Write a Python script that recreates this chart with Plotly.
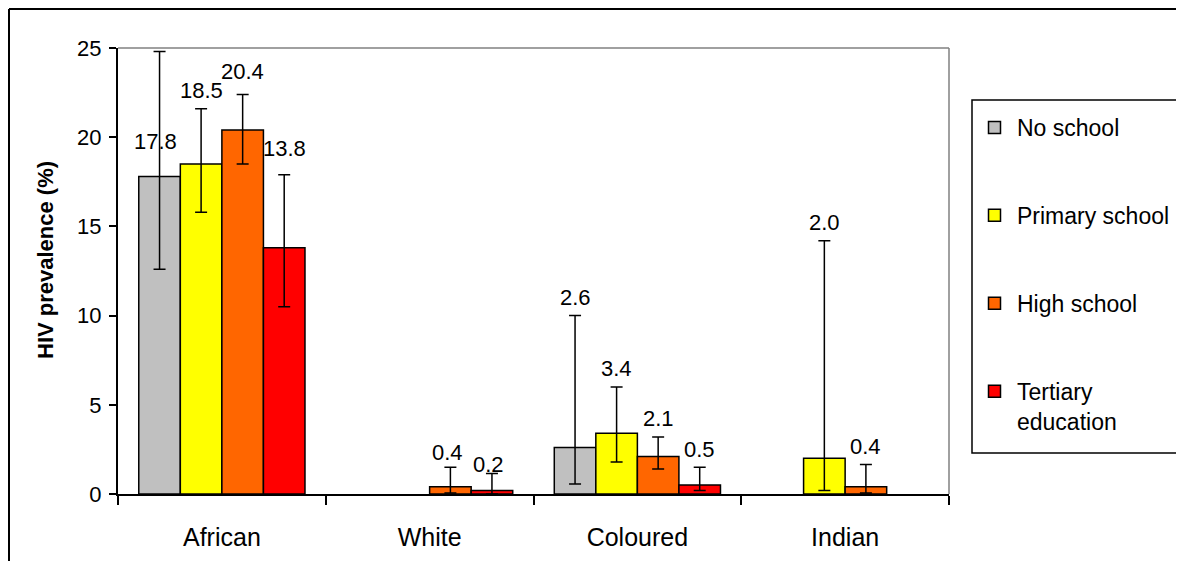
import plotly.graph_objects as go

categories = ["African", "White", "Coloured", "Indian"]
series_names = ["No school", "Primary school", "High school", "Tertiary<br>education"]
series_colors = ["#C0C0C0", "#FFFF00", "#FF6600", "#FF0000"]

no_school = [17.8, None, 2.6, None]
no_school_lo = [12.6, None, 0.56, None]
no_school_hi = [24.8, None, 10.0, None]

primary = [18.5, None, 3.4, 2.0]
primary_lo = [15.8, None, 1.8, 0.2]
primary_hi = [21.6, None, 6.0, 14.2]

high = [20.4, 0.4, 2.1, 0.4]
high_lo = [18.5, 0.05, 1.4, 0.05]
high_hi = [22.4, 1.5, 3.2, 1.65]

tertiary = [13.8, 0.2, 0.5, None]
tertiary_lo = [10.5, 0.0, 0.2, None]
tertiary_hi = [17.9, 1.15, 1.5, None]

y_ticks = [0, 5, 10, 15, 20, 25]

series = [
    (no_school, no_school_lo, no_school_hi),
    (primary, primary_lo, primary_hi),
    (high, high_lo, high_hi),
    (tertiary, tertiary_lo, tertiary_hi),
]

FONT = "Liberation Sans, Arial, sans-serif"

# label pixel shifts above the top of the error bar (default 18), for manually placed labels
label_shift = {(0, 0): (-4, -90), (2, 0): (0, 23), (3, 0): (0, 26), (3, 1): (-3, 9), (2, 1): (-3, 15)}

# page body margin compensation (figure is drawn inside an 8px page margin)
OFF = 8
W, H = 1184 - 2 * OFF, 569 - 2 * OFF
L, R, T, B = 118 - OFF, 949 - OFF, 48 - OFF, 494 - OFF
pw, ph = R - L, B - T


def px_x(x):
    return (x - OFF - L) / pw


def px_y(y):
    return (B - (y - OFF)) / ph


fig = go.Figure()
n = len(series)
for k, (vals, lo, hi) in enumerate(series):
    plus = [None if v is None else h - v for v, h in zip(vals, hi)]
    minus = [None if v is None else v - l for v, l in zip(vals, lo)]
    fig.add_trace(go.Bar(
        x=categories, y=vals, name=series_names[k],
        legendgroup=f"g{k}",
        marker=dict(color=series_colors[k], line=dict(color="black", width=1.5)),
        error_y=dict(type="data", symmetric=False, array=plus, arrayminus=minus,
                     color="black", thickness=1.5, width=6),
    ))

annotations = []
bargap = 0.2
bw = (1 - bargap) / n
for k, (vals, lo, hi) in enumerate(series):
    for i, v in enumerate(vals):
        if v is None:
            continue
        off = -0.5 + bargap / 2 + bw * (k + 0.5)
        dx, dy = label_shift.get((k, i), (0, 18))
        annotations.append(dict(
            x=i + off, y=hi[i], xref="x", yref="y", text=f"{v:.1f}",
            showarrow=False, yanchor="middle", xanchor="center",
            yshift=dy, xshift=dx,
            font=dict(family=FONT, size=22, color="black"),
        ))

# y-axis title
annotations.append(dict(
    x=px_x(45), y=px_y(260), xref="paper", yref="paper",
    text="<b>HIV prevalence (%)</b>", textangle=-90, showarrow=False,
    xanchor="center", yanchor="middle",
    font=dict(family=FONT, size=22, color="black"),
))

shapes = [
    # outer chart border (top and left edges visible)
    dict(type="line", xref="paper", yref="paper",
         x0=px_x(9), x1=px_x(1300), y0=px_y(9), y1=px_y(9),
         line=dict(color="black", width=2)),
    dict(type="line", xref="paper", yref="paper",
         x0=px_x(9), x1=px_x(9), y0=px_y(9), y1=px_y(650),
         line=dict(color="black", width=2)),
    # gray plot-area border top and right
    dict(type="line", xref="paper", yref="paper", x0=0, x1=1, y0=1, y1=1,
         line=dict(color="#808080", width=1.5)),
    dict(type="line", xref="paper", yref="paper", x0=1, x1=1, y0=0, y1=1,
         line=dict(color="#808080", width=1.5)),
    # legend box
    dict(type="rect", xref="paper", yref="paper",
         x0=px_x(972), x1=px_x(1300), y0=px_y(453), y1=px_y(100),
         line=dict(color="black", width=1.5), fillcolor="rgba(0,0,0,0)"),
]

fig.update_layout(
    width=W, height=H,
    margin=dict(l=L, r=W - R, t=T, b=H - B, pad=0, autoexpand=False),
    paper_bgcolor="white", plot_bgcolor="white",
    barmode="group", bargap=bargap, bargroupgap=0,
    font=dict(family=FONT, size=22, color="black"),
    showlegend=True,
    legend=dict(
        x=px_x(972), xanchor="left",
        y=px_y(106), yanchor="top",
        borderwidth=0, bgcolor="rgba(0,0,0,0)",
        font=dict(family=FONT, size=23, color="black"),
        tracegroupgap=55, valign="top", traceorder="grouped", itemwidth=35,
    ),
    xaxis=dict(
        type="category", showline=True, linecolor="black", linewidth=2,
        ticks="outside", tickson="boundaries", ticklen=9, tickwidth=1.5, tickcolor="black",
        showgrid=False, zeroline=False, range=[-0.5, 3.5],
        tickfont=dict(family=FONT, size=25), ticklabelstandoff=20,
    ),
    yaxis=dict(
        range=[0, 25], tickvals=y_ticks, showline=True, linecolor="black", linewidth=2,
        ticks="outside", ticklen=7, tickwidth=1.5, tickcolor="black",
        showgrid=False, zeroline=False,
        tickfont=dict(family=FONT, size=22), ticklabelstandoff=3,
    ),
    annotations=annotations,
    shapes=shapes,
)

fig.write_html("out.html")
